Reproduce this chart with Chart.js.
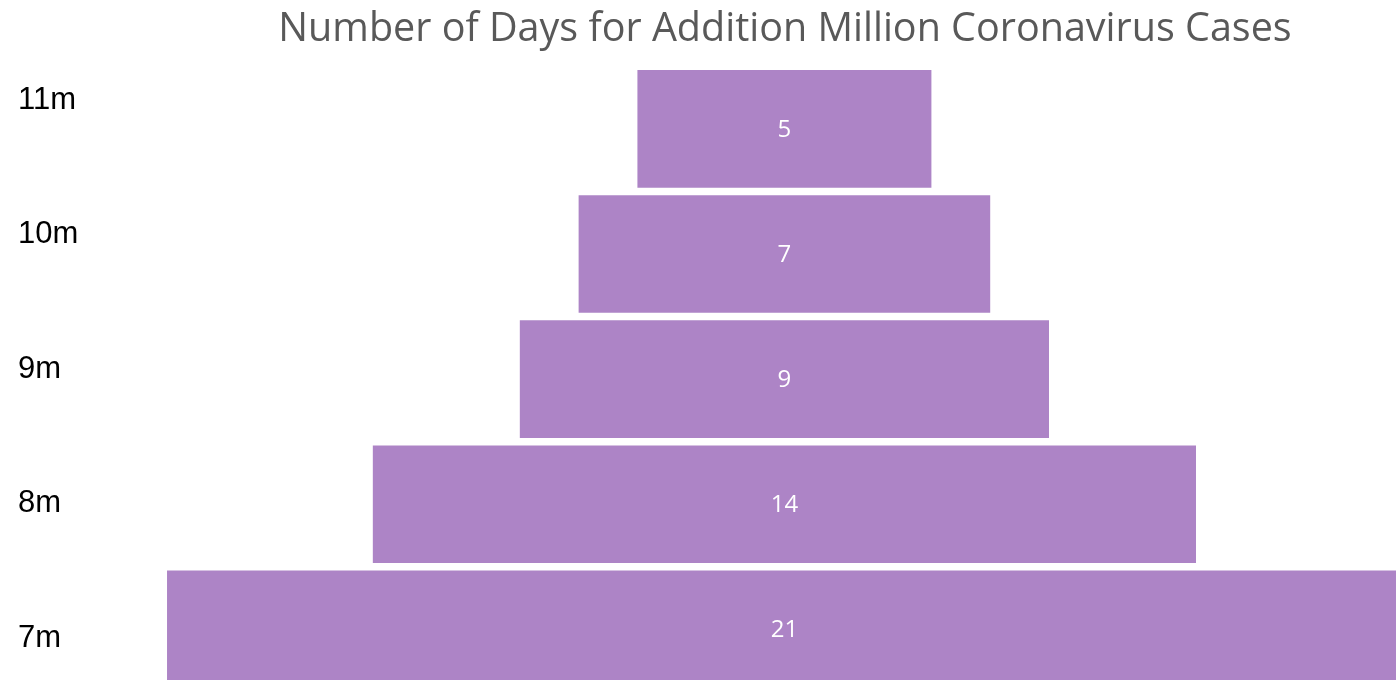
<!DOCTYPE html>
<html>
<head>
<meta charset="utf-8">
<script src="https://cdn.jsdelivr.net/npm/chart.js@4/dist/chart.umd.min.js"></script>
<style>
  html, body { margin: 0; padding: 0; background: #fff; overflow: hidden; }
</style>
</head>
<body>
<canvas id="myChart" width="1470" height="692"></canvas>
<script>
const categories = ['11m', '10m', '9m', '8m', '7m']
const days = [5, 7, 9, 14, 21]
const tickLabels = ['11m', '10m', '9m', '8m', '7m']
const titleText = 'Number of Days for Addition Million Coronavirus Cases'

// funnel: each bar floats around zero
const funnelData = days.map(v => [-v / 2, v / 2])

const barLabels = {
    id: 'barLabels',
    afterDatasetsDraw(chart){
        const ctx = chart.ctx
        const meta = chart.getDatasetMeta(0)
        ctx.save()
        ctx.fillStyle = '#ffffff'
        ctx.font = '24px "Open Sans"'
        ctx.textAlign = 'center'
        ctx.textBaseline = 'middle'
        meta.data.forEach((bar, i) => {
            const {x, base, y} = bar.getProps(['x', 'base', 'y'], true)
            ctx.fillText(String(days[i]), (x + base) / 2, y + 1)
        })
        ctx.restore()
    }
}

new Chart(document.getElementById('myChart'), {
    type: 'bar',
    data: {
        labels: categories,
        datasets: [{
            label: 'Days',
            data: funnelData,
            backgroundColor: '#ad84c6',
            borderWidth: 0,
            barPercentage: 0.94,
            categoryPercentage: 1
        }]
    },
    options: {
        indexAxis: 'y',
        responsive: false,
        animation: false,
        devicePixelRatio: 1,
        layout: { padding: { left: 18, right: 0, top: 0, bottom: 0 } },
        scales: {
            x: { display: false, min: -11.64, max: 11.66 },
            y: { display: false, position: 'left' },
            y2: {
                type: 'linear',
                position: 'left',
                reverse: true,
                offset: false,
                min: -0.2545,
                max: 4.401,
                grid: { display: false },
                border: { display: false },
                afterBuildTicks: scale => {
                    scale.ticks = tickLabels.map((_, i) => ({ value: i }))
                },
                afterFit: scale => {
                    scale.width = 82
                    scale.paddingTop = 0
                    scale.paddingBottom = 0
                },
                ticks: {
                    autoSkip: false,
                    crossAlign: 'far',
                    color: '#000000',
                    font: { family: '"Liberation Sans", Arial', size: 31 },
                    callback: value => tickLabels[value]
                }
            }
        },
        plugins: {
            legend: { display: false },
            tooltip: { enabled: false },
            title: {
                display: true,
                text: titleText,
                fullSize: false,
                color: '#595959',
                font: { family: '"Open Sans"', size: 39.5, weight: 'normal', lineHeight: 1.2 },
                padding: { top: 6.5, bottom: 12.4 }
            }
        }
    },
    plugins: [barLabels]
})
</script>
</body>
</html>
